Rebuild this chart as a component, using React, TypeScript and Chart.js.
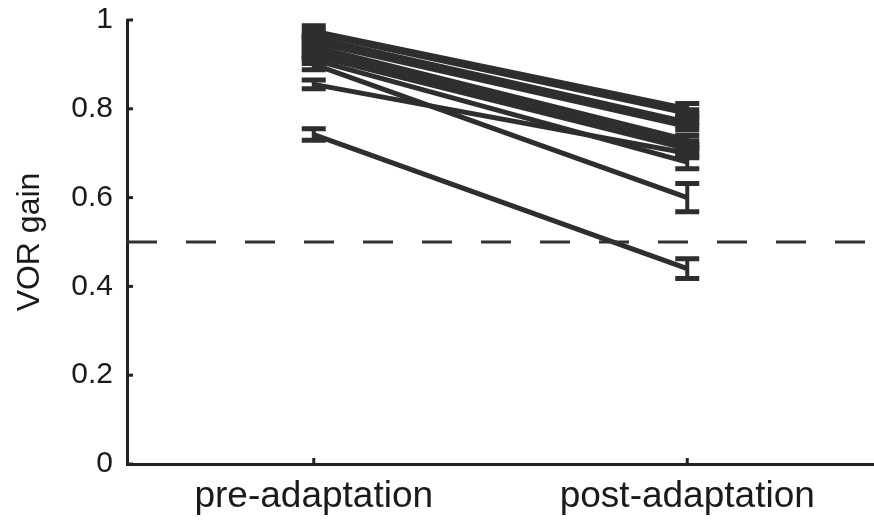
import React, { useEffect, useRef } from "react";
import { Chart, registerables } from "chart.js";

Chart.register(...registerables);

// ---- data ----
const categories = ["pre-adaptation", "post-adaptation"];
const preGain = [0.975, 0.97, 0.96, 0.95, 0.94, 0.93, 0.92, 0.91, 0.9, 0.855, 0.742];
const postGain = [0.8, 0.79, 0.77, 0.76, 0.73, 0.72, 0.71, 0.68, 0.6, 0.7, 0.44];
const preErr = [0.012, 0.008, 0.008, 0.008, 0.008, 0.008, 0.008, 0.008, 0.012, 0.01, 0.013];
const postErr = [0.012, 0.008, 0.008, 0.008, 0.01, 0.008, 0.008, 0.015, 0.032, 0.01, 0.022];
const yTickValues = [0, 0.2, 0.4, 0.6, 0.8, 1];
const referenceGain = 0.5;

const FONT = "'Liberation Sans', Arial, Helvetica, sans-serif";
const LINE_COLOR = "#2e2e2e";
const AXIS_COLOR = "#222222";
const TEXT_COLOR = "#1a1a1a";

const errorBarPlugin = {
  id: "errorBars",
  afterDatasetsDraw(chart: any) {
    const ctx = chart.ctx;
    const xs = chart.scales.x;
    const ys = chart.scales.y;
    const cap = 12;
    ctx.save();
    ctx.strokeStyle = LINE_COLOR;
    ctx.lineCap = "butt";
    const draw = (xv: number, v: number, e: number) => {
      const px = xs.getPixelForValue(xv);
      const top = ys.getPixelForValue(v + e);
      const bot = ys.getPixelForValue(v - e);
      ctx.beginPath();
      ctx.lineWidth = 4;
      ctx.moveTo(px, top);
      ctx.lineTo(px, bot);
      ctx.stroke();
      ctx.lineWidth = 5;
      ctx.beginPath();
      ctx.moveTo(px - cap, top);
      ctx.lineTo(px + cap, top);
      ctx.moveTo(px - cap, bot);
      ctx.lineTo(px + cap, bot);
      ctx.stroke();
    };
    preGain.forEach((v, i) => draw(1, v, preErr[i]));
    postGain.forEach((v, i) => draw(2, v, postErr[i]));
    ctx.restore();
  },
};

const tickMarkPlugin = {
  id: "tickMarks",
  afterDraw(chart: any) {
    const ctx = chart.ctx;
    const xs = chart.scales.x;
    const ys = chart.scales.y;
    const area = chart.chartArea;
    const len = 6;
    ctx.save();
    ctx.strokeStyle = AXIS_COLOR;
    ctx.lineWidth = 3;
    yTickValues.forEach((v) => {
      const py = ys.getPixelForValue(v);
      ctx.beginPath();
      ctx.moveTo(area.left, py);
      ctx.lineTo(area.left + len, py);
      ctx.stroke();
    });
    [1, 2].forEach((v) => {
      const px = xs.getPixelForValue(v);
      ctx.beginPath();
      ctx.moveTo(px, area.bottom);
      ctx.lineTo(px, area.bottom - len);
      ctx.stroke();
    });
    ctx.restore();
  },
};

export default function App() {
  const ref = useRef<HTMLCanvasElement | null>(null);

  useEffect(() => {
    if (!ref.current) return;
    const subjectSets = preGain.map((v, i) => ({
      type: "line" as const,
      data: [
        { x: 1, y: v },
        { x: 2, y: postGain[i] },
      ],
      borderColor: LINE_COLOR,
      borderWidth: 5,
      pointRadius: 0,
      fill: false,
    }));
    const refSet = {
      type: "line" as const,
      data: [
        { x: 0.5, y: referenceGain },
        { x: 2.5, y: referenceGain },
      ],
      borderColor: "#333333",
      borderWidth: 3,
      borderDash: [30, 29],
      pointRadius: 0,
      fill: false,
    };
    const chart = new Chart(ref.current, {
      type: "line",
      data: { datasets: [refSet, ...subjectSets] as any },
      plugins: [errorBarPlugin, tickMarkPlugin],
      options: {
        responsive: false,
        animation: false,
        layout: { padding: { top: 20, right: 0, left: 0, bottom: 0 } },
        plugins: { legend: { display: false }, tooltip: { enabled: false } },
        scales: {
          x: {
            type: "linear",
            min: 0.5,
            max: 2.5,
            grid: { display: false, drawTicks: false },
            border: { display: true, color: AXIS_COLOR, width: 3 },
            afterBuildTicks: (scale: any) => {
              scale.ticks = categories.map((_, i) => ({ value: i + 1 }));
            },
            afterFit: (scale: any) => {
              scale.height = 59;
              scale.paddingLeft = 0;
              scale.paddingRight = 0;
            },
            ticks: {
              color: TEXT_COLOR,
              padding: 11,
              font: { family: FONT, size: 37 },
              maxRotation: 0,
              autoSkip: false,
              callback: (v: any) => categories[Number(v) - 1] ?? "",
            },
          },
          y: {
            type: "linear",
            min: 0,
            max: 1,
            grid: { display: false, drawTicks: false },
            border: { display: true, color: AXIS_COLOR, width: 3 },
            afterBuildTicks: (scale: any) => {
              scale.ticks = yTickValues.map((v) => ({ value: v }));
            },
            afterFit: (scale: any) => {
              scale.width = 127;
              scale.paddingTop = 0;
              scale.paddingBottom = 0;
            },
            title: {
              display: true,
              text: "VOR gain",
              color: TEXT_COLOR,
              font: { family: FONT, size: 32 },
              padding: { top: 11, bottom: 0 },
            },
            ticks: {
              color: TEXT_COLOR,
              padding: 14,
              font: { family: FONT, size: 30 },
              callback: (v: any) => {
                const n = Number(v);
                return n === 0 || n === 1 ? String(n) : n.toFixed(1);
              },
            },
          },
        },
      },
    });
    return () => chart.destroy();
  }, []);

  return (
    <div style={{ position: "absolute", left: 0, top: 0, width: 874, height: 523, background: "#fff" }}>
      <canvas ref={ref} width={874} height={523} />
    </div>
  );
}
